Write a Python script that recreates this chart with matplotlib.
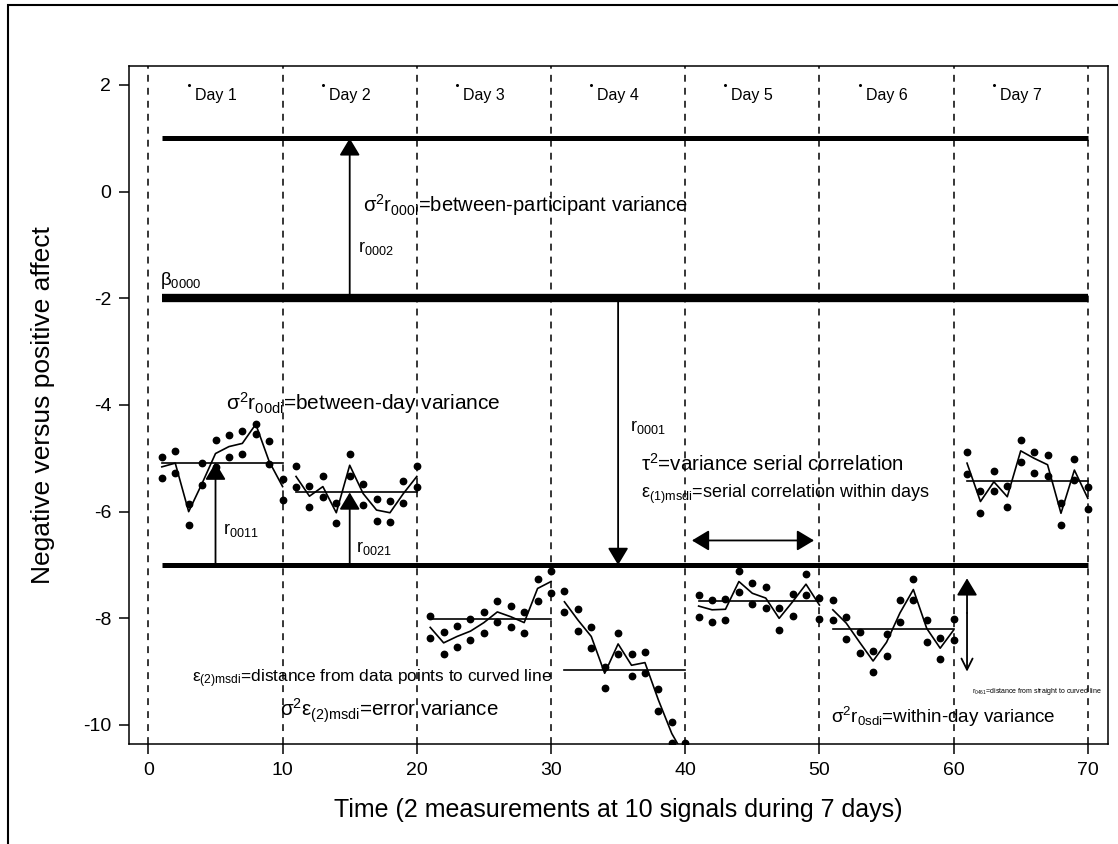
import matplotlib

matplotlib.use("Agg")
import matplotlib.pyplot as plt
import numpy as np
from matplotlib.patches import Rectangle

plt.rcParams["font.family"] = ["Liberation Sans", "DejaVu Sans"]
plt.rcParams["mathtext.fontset"] = "custom"
plt.rcParams["mathtext.rm"] = "Liberation Sans"
plt.rcParams["mathtext.it"] = "Liberation Sans:italic"
plt.rcParams["mathtext.bf"] = "Liberation Sans:bold"
plt.rcParams["axes.unicode_minus"] = False

# 7 days x 10 signals, two measurements per signal
SIGNALS = np.arange(1, 71)
HIGH = [
    -4.98, -4.86, -5.86, -5.09, -4.66, -4.57, -4.49, -4.36, -4.67, -5.39,
    -5.14, -5.51, -5.33, -5.83, -4.92, -5.48, -5.77, -5.80, -5.42, -5.14,
    -7.96, -8.25, -8.14, -8.01, -7.88, -7.67, -7.77, -7.88, -7.27, -7.12,
    -7.49, -7.83, -8.17, -8.91, -8.28, -8.67, -8.63, -9.33, -9.95, -10.33,
    -7.56, -7.66, -7.64, -7.11, -7.33, -7.41, -7.81, -7.55, -7.16, -7.61,
    -7.66, -7.98, -8.26, -8.62, -8.30, -7.66, -7.26, -8.04, -8.37, -8.02,
    -4.89, -5.62, -5.23, -5.52, -4.66, -4.88, -4.94, -5.84, -5.01, -5.54,
]
LOW = [
    -5.36, -5.27, -6.25, -5.50, -5.16, -4.97, -4.91, -4.54, -5.11, -5.78,
    -5.53, -5.91, -5.73, -6.22, -5.33, -5.88, -6.17, -6.20, -5.83, -5.53,
    -8.36, -8.66, -8.53, -8.41, -8.28, -8.07, -8.17, -8.28, -7.67, -7.53,
    -7.89, -8.23, -8.56, -9.31, -8.67, -9.08, -9.03, -9.73, -10.34, -10.72,
    -7.97, -8.06, -8.03, -7.50, -7.73, -7.81, -8.21, -7.96, -7.56, -8.02,
    -8.04, -8.38, -8.65, -9.00, -8.70, -8.06, -7.66, -8.45, -8.77, -8.41,
    -5.29, -6.03, -5.62, -5.92, -5.07, -5.27, -5.34, -6.25, -5.41, -5.95,
]
CURVE = [
    -5.16, -5.09, -6.00, -5.47, -4.91, -4.78, -4.72, -4.36, -5.06, -5.53,
    -5.34, -5.71, -5.53, -6.02, -5.13, -5.66, -5.97, -6.02, -5.66, -5.34,
    -8.17, -8.46, -8.34, -8.24, -8.08, -7.88, -7.97, -8.08, -7.44, -7.31,
    -7.69, -8.03, -8.34, -9.03, -8.48, -8.88, -8.83, -9.53, -10.16, -10.60,
    -7.77, -7.84, -7.83, -7.31, -7.53, -7.62, -8.00, -7.69, -7.36, -7.75,
    -7.84, -8.09, -8.45, -8.80, -8.45, -7.90, -7.46, -8.19, -8.56, -8.22,
    -5.09, -5.81, -5.44, -5.72, -4.86, -5.00, -5.12, -6.03, -5.22, -5.75,
]
DAY_MEANS = [-5.08, -5.64, -8.01, -8.97, -7.68, -8.20, -5.42]
DAY_LABELS = ["Day 1", "Day 2", "Day 3", "Day 4", "Day 5", "Day 6", "Day 7"]

LEVEL_TOP = 1.0        # participant level
LEVEL_GRAND = -2.0     # beta_0000
LEVEL_PERSON = -7.0    # this participant

DAY_BOUNDS = [0, 10, 20, 30, 40, 50, 60, 70]

HEAD = "-|>,head_length=0.5,head_width=0.3"
HEAD2 = "<|-|>,head_length=0.5,head_width=0.3"


def arrow(ax, start, end, style=HEAD, scale=21):
    ax.annotate(
        "",
        xy=end,
        xytext=start,
        arrowprops=dict(
            arrowstyle=style,
            color="black",
            lw=1.3,
            mutation_scale=scale,
            shrinkA=0,
            shrinkB=0,
        ),
    )


fig = plt.figure(figsize=(11.18, 8.44), dpi=100)
ax = fig.add_axes([0.1157, 0.1185, 0.8753, 0.8033])

signals = np.asarray(SIGNALS)
high = np.asarray(HIGH)
low = np.asarray(LOW)
curve = np.asarray(CURVE)

for b in DAY_BOUNDS:
    ax.axvline(b, color="black", lw=1.1, ls=(0, (4.5, 4)), zorder=1)

# level lines
ax.plot([1, 70], [LEVEL_TOP, LEVEL_TOP], color="black", lw=3.6, solid_capstyle="butt")
ax.plot([1, 70], [LEVEL_GRAND, LEVEL_GRAND], color="black", lw=6.0, solid_capstyle="butt")
ax.plot([1, 70], [LEVEL_PERSON, LEVEL_PERSON], color="black", lw=3.6, solid_capstyle="butt")

for d in range(7):
    sl = slice(d * 10, d * 10 + 10)
    xs = signals[sl]
    ax.plot(xs, curve[sl], color="black", lw=1.2)
    ax.plot([xs[0], xs[-1]], [DAY_MEANS[d], DAY_MEANS[d]], color="black", lw=1.2)
    ax.plot(xs, high[sl], "o", color="black", ms=4.6)
    ax.plot(xs, low[sl], "o", color="black", ms=4.6)
    ax.plot(3 + 10 * d, 2.0, "o", color="black", ms=1.2)
    ax.text(5 + 10 * d, 1.81, DAY_LABELS[d], ha="center", va="center", fontsize=11.5)

# arrows
arrow(ax, (15, LEVEL_GRAND), (15, LEVEL_TOP))
arrow(ax, (35, LEVEL_GRAND), (35, LEVEL_PERSON))
arrow(ax, (5, LEVEL_PERSON), (5, DAY_MEANS[0]))
arrow(ax, (15, LEVEL_PERSON), (15, DAY_MEANS[1]))
arrow(ax, (40.5, -6.54), (49.6, -6.54), style=HEAD2)
arrow(ax, (61.0, -7.9), (61.0, -7.25))
arrow(ax, (61.0, -7.9), (61.0, -9.0), style="->", scale=20)

# annotations
ax.text(0.85, -1.66, r"β$_{0000}$", fontsize=13.5, va="center")
ax.text(16.0, -0.25, r"σ$^2$r$_{\mathrm{000i}}$=between-participant variance", fontsize=14.5, va="center")
ax.text(15.6, -1.06, r"r$_{0002}$", fontsize=13, va="center")
ax.text(5.8, -3.96, r"σ$^2$r$_{\mathrm{00di}}$=between-day variance", fontsize=15, va="center")
ax.text(35.9, -4.41, r"r$_{0001}$", fontsize=13, va="center")
ax.text(5.55, -6.34, r"r$_{0011}$", fontsize=13, va="center")
ax.text(15.5, -6.69, r"r$_{0021}$", fontsize=13, va="center")
ax.text(36.7, -5.1, r"τ$^2$=variance serial correlation", fontsize=14.8, va="center")
ax.text(36.7, -5.68, r"ε$_{\mathrm{(1)msdi}}$=serial correlation within days", fontsize=13, va="center")
ax.text(30.1, -9.14, r"ε$_{\mathrm{(2)msdi}}$=distance from data points to curved line",
        fontsize=12.4, va="center", ha="right")
ax.text(9.8, -9.73, r"σ$^2$ε$_{\mathrm{(2)msdi}}$=error variance", fontsize=14.8, va="center")
ax.text(61.4, -9.38, r"r$_{0461}$=distance from straight to curved line", fontsize=5.0, va="center")
ax.text(50.9, -9.84, r"σ$^2$r$_{\mathrm{0sdi}}$=within-day variance", fontsize=13.6, va="center")

ax.set_xlim(-1.42, 71.5)
ax.set_ylim(-10.356, 2.356)
ax.set_xticks([0, 10, 20, 30, 40, 50, 60, 70])
ax.set_yticks([2, 0, -2, -4, -6, -8, -10])
ax.tick_params(axis="both", labelsize=14, width=1.1, length=7, pad=6)
for spine in ax.spines.values():
    spine.set_linewidth(1.1)

ax.set_xlabel("Time (2 measurements at 10 signals during 7 days)", fontsize=18, labelpad=14)
ax.set_ylabel("Negative versus positive affect", fontsize=19, labelpad=20)

fig.add_artist(Rectangle((0.007, -0.05), 1.1, 1.044, transform=fig.transFigure,
                         fill=False, lw=1.5, edgecolor="black"))

fig.savefig("out.png", dpi=100)
